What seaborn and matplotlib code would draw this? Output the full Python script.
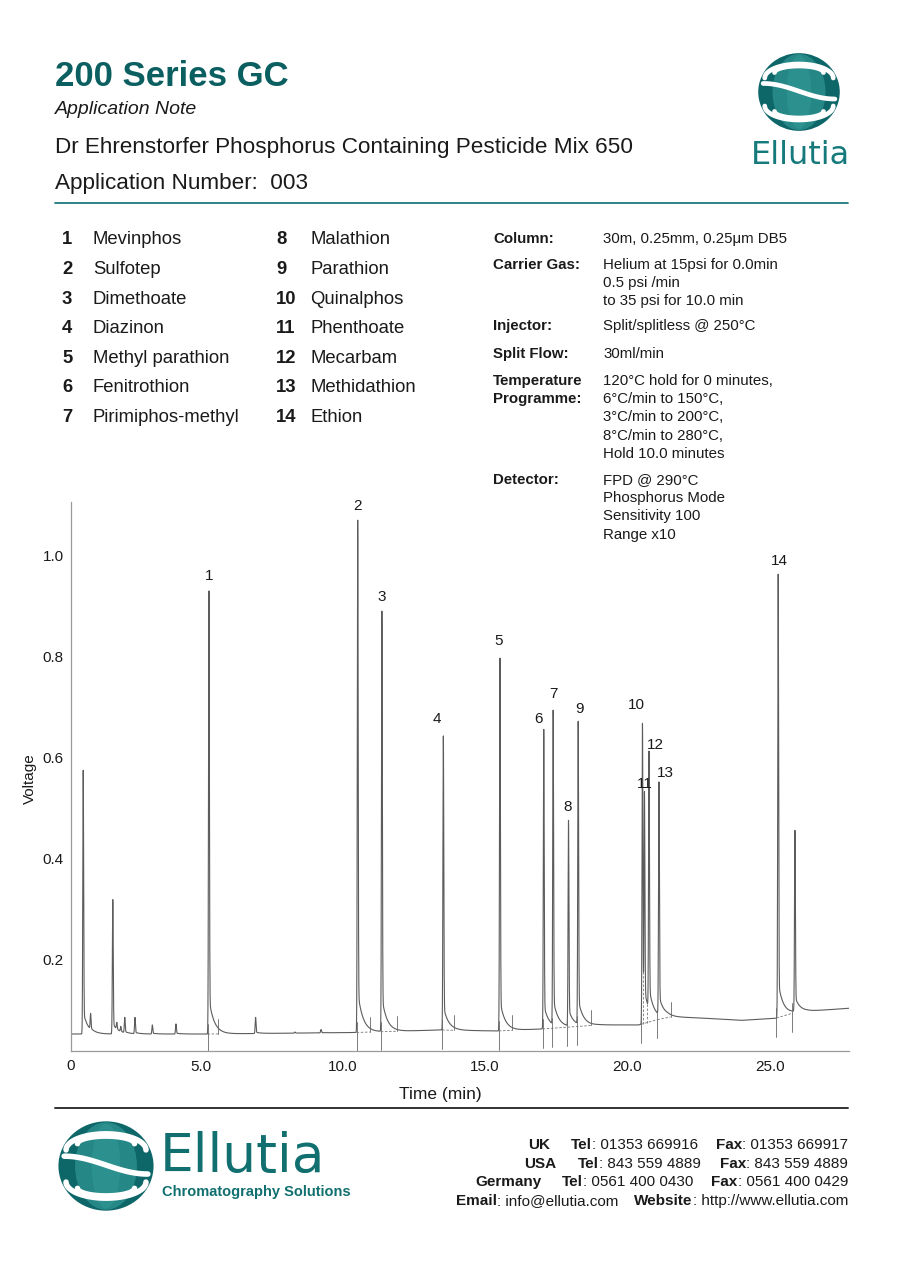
import numpy as np
import pandas as pd
import matplotlib
matplotlib.use("Agg")
import matplotlib.pyplot as plt
import seaborn as sns
from matplotlib import font_manager as fm
from matplotlib.patches import Ellipse
from matplotlib.lines import Line2D

# ---------------------------------------------------------------- data
compound_nums_a = ["1", "2", "3", "4", "5", "6", "7"]
compound_names_a = ["Mevinphos", "Sulfotep", "Dimethoate", "Diazinon",
                    "Methyl parathion", "Fenitrothion", "Pirimiphos-methyl"]
compound_nums_b = ["8", "9", "10", "11", "12", "13", "14"]
compound_names_b = ["Malathion", "Parathion", "Quinalphos", "Phenthoate",
                    "Mecarbam", "Methidathion", "Ethion"]

cond_labels = ["Column:", "Carrier Gas:", "Injector:", "Split Flow:",
               "Temperature\nProgramme:", "Detector:"]
cond_values = [
    ["30m, 0.25mm, 0.25μm DB5"],
    ["Helium at 15psi for 0.0min", "0.5 psi /min", "to 35 psi for 10.0 min"],
    ["Split/splitless @ 250°C"],
    ["30ml/min"],
    ["120°C hold for 0 minutes,", "6°C/min to 150°C,", "3°C/min to 200°C,",
     "8°C/min to 280°C,", "Hold 10.0 minutes"],
    ["FPD @ 290°C", "Phosphorus Mode", "Sensitivity 100", "Range x10"],
]

# labelled peaks: retention time (min) and apex voltage
peak_labels = ["1", "2", "3", "4", "5", "6", "7", "8", "9", "10", "11", "12", "13", "14"]
peak_times = [5.29, 10.52, 11.37, 13.53, 15.52, 17.06, 17.39, 17.93, 18.27,
              20.53, 20.60, 20.76, 21.11, 25.30]
peak_heights = [0.929, 1.069, 0.889, 0.642, 0.796, 0.655, 0.693, 0.475, 0.671,
                0.667, 0.532, 0.612, 0.551, 0.962]
# unlabelled peaks
other_times = [0.87, 0.95, 1.13, 1.91, 2.05, 2.19, 2.33, 2.69, 3.30, 4.13,
               6.93, 8.31, 9.23, 25.89]
other_heights = [0.574, 0.080, 0.093, 0.318, 0.075, 0.067, 0.085, 0.085, 0.070,
                 0.072, 0.085, 0.056, 0.061, 0.455]
# baseline
base_times = [0.43, 5.2, 10.4, 13.4, 15.4, 17.0, 19.0, 20.4, 21.4, 22.5, 24.0,
              25.2, 25.85, 26.3, 27.79]
base_values = [0.052, 0.052, 0.055, 0.060, 0.058, 0.062, 0.070, 0.070, 0.086,
               0.084, 0.079, 0.083, 0.094, 0.097, 0.103]
# integration events
int_starts = [5.24, 10.48, 11.33, 13.49, 15.48, 17.02, 17.35, 17.89, 18.23,
              20.47, 21.05, 25.24, 25.80]
int_ends = [5.62, 10.95, 11.90, 13.92, 15.95, 18.72, 21.52]
int_segments = [(5.24, 5.62), (10.48, 10.95), (11.33, 11.90), (13.49, 13.92),
                (15.48, 15.95), (17.02, 18.72), (20.47, 21.05), (21.05, 21.52),
                (25.24, 25.80)]
drop_times = [20.565, 20.68]

x_ticks = [5, 10, 15, 20, 25]
x_ticklabels = ["5.0", "10.0", "15.0", "20.0", "25.0"]
y_ticks = [0.2, 0.4, 0.6, 0.8, 1.0]
y_ticklabels = ["0.2", "0.4", "0.6", "0.8", "1.0"]

# ---------------------------------------------------------------- style
sns.set_theme(style="white")


def have(name):
    try:
        fm.findfont(name, fallback_to_default=False)
        return True
    except Exception:
        return False


SANS = "Liberation Sans" if have("Liberation Sans") else "DejaVu Sans"
NARROW = "Liberation Sans Narrow" if have("Liberation Sans Narrow") else SANS
plt.rcParams["font.family"] = [SANS, "DejaVu Sans"]

TEAL = "#0c5f61"
LOGO1 = "#0d6668"
LOGO2 = "#3aa3a0"
INK = "#1a1a1a"

W, H = 900, 1273
fig = plt.figure(figsize=(9, 12.73), dpi=100)
fig.patch.set_facecolor("white")
renderer = fig.canvas.get_renderer()


def P(x, y):
    return (x / W, 1 - y / H)


def txt(x, y, s, **kw):
    kw.setdefault("va", "center")
    kw.setdefault("color", INK)
    return fig.text(*P(x, y), s, **kw)


def rich(x, y, pieces, size, family, ha="left"):
    widths = []
    for s, w in pieces:
        t = fig.text(0, 0, s, fontsize=size, fontweight=w, family=[family, "DejaVu Sans"])
        widths.append(t.get_window_extent(renderer).width)
        t.remove()
    x0 = x - sum(widths) if ha == "right" else x
    for (s, w), wd in zip(pieces, widths):
        txt(x0, y, s, fontsize=size, fontweight=w, family=[family, "DejaVu Sans"], ha="left")
        x0 += wd


def hline(x0, x1, y, color, lw):
    fig.add_artist(Line2D([x0 / W, x1 / W], [1 - y / H, 1 - y / H],
                          color=color, lw=lw, transform=fig.transFigure))


def draw_logo(box, gap):
    lax = fig.add_axes(box)
    lax.set_xlim(-1.03, 1.03)
    lax.set_ylim(-1.03, 1.03)
    lax.axis("off")
    # cylinder silhouette with lighter centre for shading
    lax.add_patch(Ellipse((0, 0), 2.0, 2.0, color=LOGO1, lw=0))
    lax.add_patch(Ellipse((0, 0), 1.3, 1.96, color=LOGO2, lw=0, alpha=0.55))
    lax.add_patch(Ellipse((0, 0), 0.6, 1.9, color=LOGO2, lw=0, alpha=0.35))
    # white gaps between the ribbon turns
    kw = dict(color="white", lw=gap, solid_capstyle="round")
    s = np.linspace(0, np.pi, 60)
    lax.plot(0.84 * np.cos(s), 0.36 + 0.36 * np.sin(s), **kw)
    lax.plot(0.60 * np.cos(s), 0.50 + 0.17 * np.sin(s), **kw)
    xs = np.linspace(-0.88, 0.88, 80)
    lax.plot(xs, 0.20 * np.cos(np.pi * (xs + 0.88) / 1.76) + 0.02, **kw)
    lax.plot(0.84 * np.cos(s), -0.36 - 0.36 * np.sin(s), **kw)
    lax.plot(0.60 * np.cos(s), -0.50 - 0.17 * np.sin(s), **kw)


# ---------------------------------------------------------------- header
txt(55, 77, "200 Series GC", fontsize=28 if NARROW != SANS else 25,
    fontweight="bold", color=TEAL, family=[NARROW, "DejaVu Sans"])
txt(55, 110, "Application Note", fontsize=14, fontstyle="italic")
txt(55, 147, "Dr Ehrenstorfer Phosphorus Containing Pesticide Mix 650", fontsize=16.2)
txt(55, 183, "Application Number:  003", fontsize=16.2)
hline(55, 848, 203, "#1f7a7b", 1.3)

draw_logo([757 / W, 1 - 132 / H, 84 / W, 80 / H], 3.4)
txt(800, 155, "Ellutia", fontsize=23, color="#16797b", ha="center",
    family=["DejaVu Sans"])

# compound list
row_y = [240, 269.6, 299.2, 328.8, 358.4, 388, 417.6]
for yy, n, name in zip(row_y, compound_nums_a, compound_names_a):
    txt(62, yy, n, fontsize=13.3, fontweight="bold")
    txt(93, yy, name, fontsize=13.3)
for yy, n, name in zip(row_y, compound_nums_b, compound_names_b):
    txt(276, yy, n, fontsize=13.3, fontweight="bold")
    txt(310, yy, name, fontsize=13.3)

# conditions table
block_y = [239, 265, 326, 354, 381, 480]
step = 18.2
for by, lab, vals in zip(block_y, cond_labels, cond_values):
    for k, part in enumerate(lab.split("\n")):
        txt(493, by + k * step, part, fontsize=10.8, fontweight="bold")
    for k, v in enumerate(vals):
        txt(603, by + k * step, v, fontsize=10.8)

# ---------------------------------------------------------------- chromatogram
t = np.arange(base_times[0], base_times[-1] + 1e-9, 0.002)
baseline = np.interp(t, base_times, base_values)

all_times = np.array(peak_times + other_times)
all_heights = np.array(peak_heights + other_heights)
SIG, TAIL_A, TAU = 0.015, 0.08, 0.18


def shape(dt):
    g = np.exp(-dt ** 2 / (2 * SIG ** 2))
    pos = np.clip(dt, 0, None)
    return np.where(dt < 0, g, (1 - TAIL_A) * g + TAIL_A * np.exp(-pos / TAU))


M = shape(all_times[:, None] - all_times[None, :])
amps = np.linalg.solve(M, all_heights - np.interp(all_times, base_times, base_values))
signal = baseline + (amps[None, :] * shape(t[:, None] - all_times[None, :])).sum(axis=1)

df = pd.DataFrame({"Time (min)": t, "Voltage": signal})

ax = fig.add_axes([70.7 / W, 1 - 1050.7 / H, (849 - 70.7) / W, (1050.7 - 502) / H])
sns.lineplot(data=df, x="Time (min)", y="Voltage", ax=ax, color="#5c5c5c",
             lw=0.8, estimator=None, sort=False)

# integration markers
bl = lambda x: float(np.interp(x, base_times, base_values))
for s in int_starts:
    ax.plot([s, s], [bl(s) - 0.037, bl(s) + 0.02], color="#666666", lw=0.6)
for e in int_ends:
    ax.plot([e, e], [bl(e), bl(e) + 0.03], color="#666666", lw=0.6)
for a, b in int_segments:
    ax.plot([a, b], [bl(a), bl(b)], color="#777777", lw=0.6, ls=(0, (3, 2)))
for d in drop_times:
    ax.plot([d, d], [bl(d), float(np.interp(d, t, signal))], color="#777777",
            lw=0.6, ls=(0, (3, 2)))

# peak labels
label_dx = [0, 0, 0, -0.22, -0.04, -0.17, 0, -0.02, 0.06, -0.2, 0.0, 0.21, 0.21, 0.03]
label_dy = [0.029, 0.028, 0.028, 0.034, 0.033, 0.021, 0.031, 0.026, 0.024, 0.037,
            0.015, 0.013, 0.017, 0.027]
for lab, pt, ph, dx, dy in zip(peak_labels, peak_times, peak_heights, label_dx, label_dy):
    ax.text(pt + dx, ph + dy, lab, ha="center", va="center", fontsize=11, color=INK)

ax.set_xlim(base_times[0], base_times[-1])
ax.set_ylim(0.019, 1.105)
ax.set_xticks(x_ticks)
ax.set_xticklabels(x_ticklabels)
ax.set_yticks(y_ticks)
ax.set_yticklabels(y_ticklabels)
ax.tick_params(axis="both", which="both", direction="out", length=4, width=0.7,
               color="#8a8a8a", labelsize=11, labelcolor=INK)
ax.tick_params(axis="x", pad=3)
ax.tick_params(axis="y", pad=1)
ax.text(0, -0.028, "0", transform=ax.transAxes, ha="center", va="center",
        fontsize=11, color=INK)
ax.set_facecolor("white")
sns.despine(ax=ax)
for sp in ("left", "bottom"):
    ax.spines[sp].set_color("#9a9a9a")
    ax.spines[sp].set_linewidth(0.9)
ax.grid(False)
ax.set_xlabel("Time (min)", fontsize=12.5, color=INK)
ax.set_ylabel("Voltage", fontsize=11, color=INK)
ax.xaxis.set_label_coords((440 - 70.7) / (849 - 70.7), -(1094 - 1050.7) / (1050.7 - 502))
ax.xaxis.label.set_va("center")
ax.yaxis.set_label_coords((30 - 70.7) / (849 - 70.7), (1050.7 - 779) / (1050.7 - 502))
ax.yaxis.label.set_va("center")

# ---------------------------------------------------------------- footer
hline(55, 848, 1108, "#333333", 1.4)
draw_logo([57 / W, 1 - 1212 / H, 98 / W, 92 / H], 4.0)
txt(160, 1157, "Ellutia", fontsize=38.5, color="#11706f", family=["DejaVu Sans"])
txt(162, 1192, "Chromatography Solutions", fontsize=10.5, fontweight="bold",
    color="#11706f", family=[NARROW, "DejaVu Sans"])

FS = 11 if NARROW == SANS else 12.5
rich(550, 1145, [("UK", "bold")], FS, NARROW, ha="right")
rich(698, 1145, [("Tel", "bold"), (": 01353 669916", "normal")], FS, NARROW, ha="right")
rich(848, 1145, [("Fax", "bold"), (": 01353 669917", "normal")], FS, NARROW, ha="right")
rich(556, 1164, [("USA", "bold")], FS, NARROW, ha="right")
rich(701, 1164, [("Tel", "bold"), (": 843 559 4889", "normal")], FS, NARROW, ha="right")
rich(848, 1164, [("Fax", "bold"), (": 843 559 4889", "normal")], FS, NARROW, ha="right")
rich(542, 1182, [("Germany", "bold")], FS, NARROW, ha="right")
rich(693, 1182, [("Tel", "bold"), (": 0561 400 0430", "normal")], FS, NARROW, ha="right")
rich(848, 1182, [("Fax", "bold"), (": 0561 400 0429", "normal")], FS, NARROW, ha="right")
rich(618, 1201, [("Email", "bold"), (": info@ellutia.com", "normal")], FS, NARROW, ha="right")
rich(848, 1201, [("Website", "bold"), (": http://www.ellutia.com", "normal")], FS, NARROW, ha="right")

fig.savefig("out.png", dpi=100, facecolor="white")
